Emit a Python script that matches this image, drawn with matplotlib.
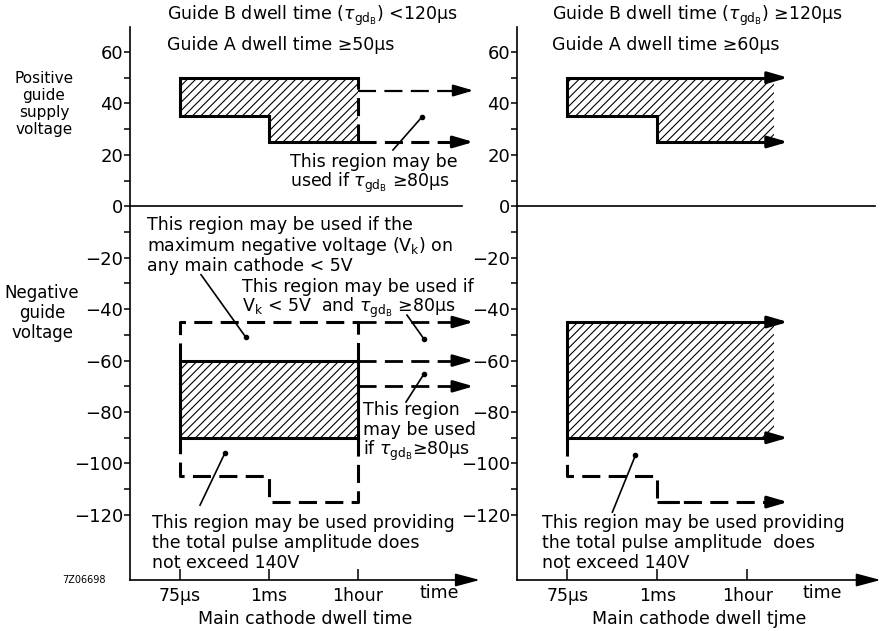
import matplotlib
matplotlib.use("Agg")
import matplotlib.pyplot as plt

plt.rcParams['font.family'] = ['DejaVu Sans', 'Noto Sans']
plt.rcParams['mathtext.fontset'] = 'dejavusans'
plt.rcParams['hatch.linewidth'] = 0.8
plt.rcParams['lines.scale_dashes'] = False

# time axis (log-like, only three labelled points)
time_pos = [1, 2, 3]
time_labels = ['75µs', '1ms', '1hour']

volt_major = [60, 40, 20, 0, -20, -40, -60, -80, -100, -120]
volt_minor = [50, 30, 10, -10, -30, -50, -70, -90, -110]

# Left panel: guide B dwell time < 120us
L_pos_top = 50
L_pos_bottom = [35, 25]          # 75us..1ms, 1ms..1hour
L_pos_ext = [45, 25]             # dashed extensions beyond 1 hour
L_neg_top = -60
L_neg_bottom = -90
L_neg_outer_top = -45
L_neg_outer_bottom = [-105, -115]
L_neg_ext = [-45, -60, -70]

# Right panel: guide B dwell time >= 120us
R_pos_top = 50
R_pos_bottom = [35, 25]
R_neg_top = -45
R_neg_bottom = -90
R_neg_outer_bottom = [-105, -115]

TAU = r'$\tau_{\mathrm{gd}_\mathrm{B}}$'
VK = r'V$_\mathrm{k}$'

DASH = (13, 6)
LW = 2.2
Y0, Y1 = -145.3, 69.7
TXT = 12.5
HATCH = '////'


def arrow_line(ax, x0, x1, y, lw=LW, dashed=False):
    head = 0.2
    kw = dict(dashes=DASH) if dashed else {}
    ax.plot([x0, x1 - head], [y, y], color='k', lw=lw, solid_capstyle='butt',
            dash_capstyle='butt', clip_on=False, **kw)
    ax.annotate('', xy=(x1, y), xytext=(x1 - head, y), annotation_clip=False,
                arrowprops=dict(arrowstyle='-|>,head_length=1.2,head_width=0.35',
                                mutation_scale=10, color='k', lw=lw,
                                shrinkA=0, shrinkB=0))


def path(ax, xs, ys, lw=LW, dashed=False):
    kw = dict(dashes=DASH) if dashed else {}
    ax.plot(xs, ys, color='k', lw=lw, solid_joinstyle='miter',
            dash_capstyle='butt', clip_on=False, **kw)


def note(ax, x, ys, lines, size=TXT):
    for y, s in zip(ys, lines):
        ax.text(x, y, s, ha='left', va='baseline', fontsize=size)


def leader(ax, start, dot):
    ax.plot([start[0], dot[0]], [start[1], dot[1]], color='k', lw=1.2)
    ax.plot(*dot, 'o', color='k', ms=3)


def setup(ax, x_end, zero_end, time_x):
    ax.set_xlim(0.44, x_end)
    ax.set_ylim(Y0, Y1)
    ax.patch.set_alpha(0)
    for s in ['top', 'right', 'bottom']:
        ax.spines[s].set_visible(False)
    ax.spines['left'].set_linewidth(1.2)
    ax.set_yticks(volt_major)
    ax.set_yticks(volt_minor, minor=True)
    ax.tick_params(axis='y', which='both', direction='out', length=4, width=1.1,
                   labelsize=13, pad=1)
    ax.set_xticks(time_pos)
    ax.set_xticklabels(time_labels)
    ax.tick_params(axis='x', direction='in', length=8, width=1.1, labelsize=12.5, pad=5)
    ax.axhline(0, xmin=0, xmax=(zero_end - 0.44) / (x_end - 0.44), color='k', lw=1.2)
    ax.annotate('', xy=(x_end, Y0), xytext=(0.44, Y0), annotation_clip=False,
                arrowprops=dict(arrowstyle='-|>,head_length=1.5,head_width=0.4',
                                mutation_scale=10, color='k', lw=1.2,
                                shrinkA=0, shrinkB=0))
    ax.text(time_x, -150.5, 'time', ha='center', va='center', fontsize=12.5)


fig = plt.figure(figsize=(8.82, 6.31), dpi=100)
H = 631
axL = fig.add_axes([130 / 882, 51 / H, (4.37 - 0.44) * 89 / 882, 553 / H])
axR = fig.add_axes([517 / 882, 51 / H, (4.48 - 0.44) * 90 / 882, 553 / H])

setup(axL, 4.37, 4.17, 3.92)
setup(axR, 4.48, 4.42, 3.83)

# ---- left panel ----
ax = axL
xs = [1, 2, 3]
ax.fill_between(xs, [L_pos_bottom[0], L_pos_bottom[1], L_pos_bottom[1]], L_pos_top,
                step='post', facecolor='none', edgecolor='k', hatch=HATCH, lw=0)
path(ax, [3, 1, 1, 2, 2, 3],
     [L_pos_top, L_pos_top, L_pos_bottom[0], L_pos_bottom[0], L_pos_bottom[1], L_pos_bottom[1]])
path(ax, [3, 3], [L_pos_bottom[1], L_pos_top], dashed=True)
arrow_line(ax, 3, 4.3, L_pos_ext[0], lw=1.6, dashed=True)
arrow_line(ax, 3, 4.3, L_pos_ext[1], dashed=True)

ax.fill_between([1, 3], L_neg_bottom, L_neg_top, facecolor='none', edgecolor='k',
                hatch=HATCH, lw=0)
path(ax, [1, 3, 3, 1, 1], [L_neg_top, L_neg_top, L_neg_bottom, L_neg_bottom, L_neg_top])
path(ax, [1, 1, 3, 3], [L_neg_top, L_neg_outer_top, L_neg_outer_top, L_neg_top], dashed=True)
path(ax, [3, 3, 2, 2, 1, 1],
     [L_neg_bottom, L_neg_outer_bottom[1], L_neg_outer_bottom[1], L_neg_outer_bottom[0],
      L_neg_outer_bottom[0], L_neg_bottom], dashed=True)
for y in L_neg_ext:
    arrow_line(ax, 3, 4.3, y, lw=2.0, dashed=True)

note(ax, 2.238, [15.2, 7.5], ['This region may be', 'used if ' + TAU + ' ≥80µs'])
leader(ax, (3.395, 21.9), (3.72, 34.7))
note(ax, 0.631, [-9.2, -17.2, -25.0],
     ['This region may be used if the',
      'maximum negative voltage (' + VK + ') on',
      'any main cathode < 5V'])
leader(ax, (1.238, -26.6), (1.743, -51.0))
note(ax, 1.698, [-33.4, -41.1],
     ['This region may be used if', VK + ' < 5V  and ' + TAU + ' ≥80µs'])
leader(ax, (3.552, -42.3), (3.743, -51.6))
note(ax, 3.058, [-81.2, -88.9, -96.7], ['This region', 'may be used', 'if ' + TAU + '≥80µs'])
leader(ax, (3.541, -76.1), (3.743, -65.2))
note(ax, 0.687, [-125.1, -132.9, -140.7],
     ['This region may be used providing',
      'the total pulse amplitude does',
      'not exceed 140V'])
leader(ax, (1.227, -116.2), (1.507, -95.9))
ax.text(0.5 * (0.44 + 4.37), -160.5, 'Main cathode dwell time', ha='center',
        va='center', fontsize=12.5)

# ---- right panel ----
ax = axR
hx = 3.3
ax.fill_between([1, 2, hx], [R_pos_bottom[0], R_pos_bottom[1], R_pos_bottom[1]], R_pos_top,
                step='post', facecolor='none', edgecolor='k', hatch=HATCH, lw=0)
path(ax, [1, 1, 2, 2], [R_pos_top, R_pos_bottom[0], R_pos_bottom[0], R_pos_bottom[1]])
arrow_line(ax, 1, 3.45, R_pos_top)
arrow_line(ax, 2, 3.45, R_pos_bottom[1])

ax.fill_between([1, hx], R_neg_bottom, R_neg_top, facecolor='none', edgecolor='k',
                hatch=HATCH, lw=0)
path(ax, [1, 1], [R_neg_top, R_neg_bottom])
arrow_line(ax, 1, 3.45, R_neg_top)
arrow_line(ax, 1, 3.45, R_neg_bottom)
path(ax, [1, 1, 2, 2, 2.3], [R_neg_bottom, R_neg_outer_bottom[0], R_neg_outer_bottom[0],
                             R_neg_outer_bottom[1], R_neg_outer_bottom[1]], dashed=True)
arrow_line(ax, 2, 3.45, R_neg_outer_bottom[1], dashed=True)

note(ax, 0.722, [-125.1, -132.9, -140.7],
     ['This region may be used providing',
      'the total pulse amplitude  does',
      'not exceed 140V'])
leader(ax, (1.5, -118.9), (1.756, -96.8))
ax.text(0.5 * (0.44 + 4.48), -160.5, 'Main cathode dwell tjme', ha='center',
        va='center', fontsize=12.5)

# ---- headings and side labels ----
def ftext(x, y, s, **kw):
    fig.text(x / 882, 1 - y / H, s, va='baseline', **kw)

ftext(167, 20, 'Guide B dwell time (' + TAU + ') <120µs', fontsize=TXT)
ftext(167, 50, 'Guide A dwell time ≥50µs', fontsize=TXT)
ftext(552, 20, 'Guide B dwell time (' + TAU + ') ≥120µs', fontsize=TXT)
ftext(552, 50, 'Guide A dwell time ≥60µs', fontsize=TXT)

for y, s in zip([83, 100, 117, 134], ['Positive', 'guide', 'supply', 'voltage']):
    ftext(44, y, s, ha='center', fontsize=11, fontweight='medium')
for y, s in zip([298, 318, 338], ['Negative', 'guide', 'voltage']):
    ftext(42, y, s, ha='center', fontsize=12, fontweight='medium')
ftext(62, 583, '7Z06698', fontsize=7)

fig.savefig('out.png', dpi=100)
